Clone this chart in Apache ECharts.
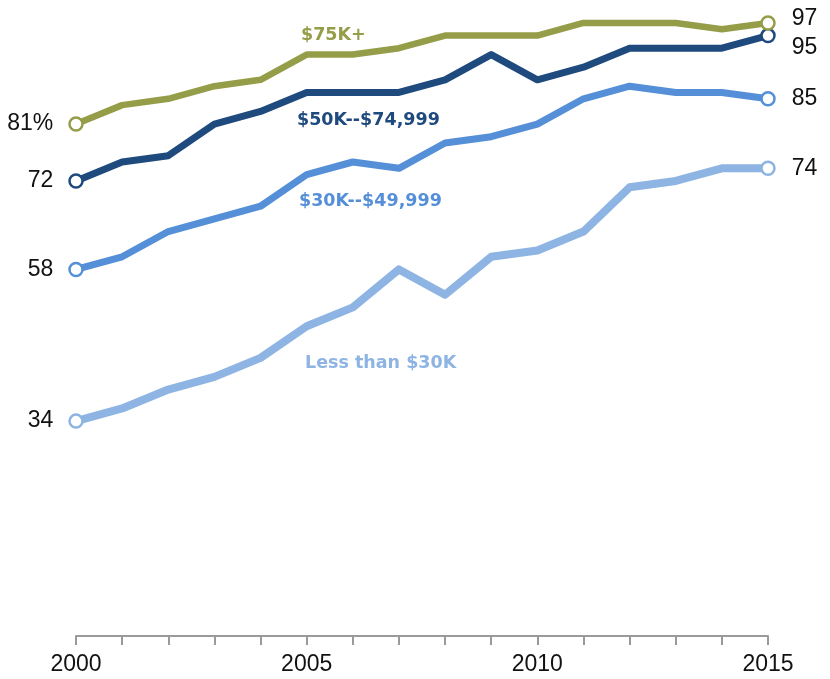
<!DOCTYPE html>
<html>
<head>
<meta charset="utf-8">
<script src="https://cdn.jsdelivr.net/npm/echarts@6/dist/echarts.min.js"></script>
<style>
  html, body { margin: 0; padding: 0; background: #fff; }
  #main { width: 830px; height: 679px; }
</style>
</head>
<body>
<div id="main"></div>
<script>
// years on the x axis
const years = ['2000', '2001', '2002', '2003', '2004', '2005', '2006', '2007',
  '2008', '2009', '2010', '2011', '2012', '2013', '2014', '2015'];

// share online, by household income (%)
const inc75plus = [81, 84, 85, 87, 88, 92, 92, 93, 95, 95, 95, 97, 97, 97, 96, 97];
const inc50to75 = [72, 75, 76, 81, 83, 86, 86, 86, 88, 92, 88, 90, 93, 93, 93, 95];
const inc30to50 = [58, 60, 64, 66, 68, 73, 75, 74, 78, 79, 81, 85, 87, 86, 86, 85];
const incUnder30 = [34, 36, 39, 41, 44, 49, 52, 58, 54, 60, 61, 64, 71, 72, 74, 74];

const seriesNames = ['$75K+', '$50K--$74,999', '$30K--$49,999', 'Less than $30K'];
const colors = ['#959d48', '#1f4a7e', '#558fd8', '#8db4e2'];

const labelFont = { fontFamily: 'Liberation Sans, Arial, sans-serif', fontSize: 23, color: '#111' };
const nameFont = 'bold 17.5px "DejaVu Sans", sans-serif';

// first/last points get the value labels
function withEndLabels(values, opts) {
  const last = values.length - 1;
  return values.map(function (v, i) {
    if (i === 0) {
      return {
        value: v,
        label: Object.assign({
          show: true, position: 'left', distance: 15,
          formatter: opts.firstSuffix ? '{c}' + opts.firstSuffix : '{c}'
        }, labelFont)
      };
    }
    if (i === last) {
      return {
        value: v,
        label: Object.assign({
          show: true, position: 'right', distance: 16,
          offset: opts.lastOffset || [0, 0]
        }, labelFont)
      };
    }
    return v;
  });
}

function makeLine(name, values, color, width, opts) {
  const last = values.length - 1;
  return {
    name: name,
    type: 'line',
    data: withEndLabels(values, opts),
    symbol: 'circle',
    symbolSize: function (v, p) {
      return (p.dataIndex === 0 || p.dataIndex === last) ? 13 : 0;
    },
    lineStyle: { color: color, width: width, cap: 'round', join: 'round' },
    itemStyle: { color: '#fff', borderColor: color, borderWidth: 2.5 },
    emphasis: { disabled: true },
    z: opts.z
  };
}

const chart = echarts.init(document.getElementById('main'));

chart.setOption({
  animation: false,
  backgroundColor: '#fff',
  grid: { left: 76, right: 62, top: 4, bottom: 43 },
  xAxis: {
    type: 'category',
    data: years,
    boundaryGap: false,
    axisLine: { lineStyle: { color: '#9a9a9a', width: 2 } },
    axisTick: { show: true, interval: 0, length: 9, lineStyle: { color: '#9a9a9a', width: 2 } },
    axisLabel: {
      interval: 4,
      margin: 17,
      fontFamily: 'Liberation Sans, Arial, sans-serif',
      fontSize: 23,
      color: '#111'
    }
  },
  yAxis: {
    type: 'value',
    min: 0,
    max: 100,
    show: false
  },
  series: [
    makeLine(seriesNames[3], incUnder30, colors[3], 8, { z: 2 }),
    makeLine(seriesNames[2], inc30to50, colors[2], 7, { z: 3 }),
    makeLine(seriesNames[1], inc50to75, colors[1], 7, { z: 4, lastOffset: [0, 12] }),
    makeLine(seriesNames[0], inc75plus, colors[0], 6.5, { z: 5, firstSuffix: '%', lastOffset: [0, -4] })
  ],
  graphic: [
    { type: 'text', left: 301, top: 26, style: { text: seriesNames[0], fill: colors[0], font: nameFont } },
    { type: 'text', left: 297, top: 111, style: { text: seriesNames[1], fill: colors[1], font: nameFont } },
    { type: 'text', left: 299, top: 192, style: { text: seriesNames[2], fill: colors[2], font: nameFont } },
    { type: 'text', left: 305, top: 354, style: { text: seriesNames[3], fill: colors[3], font: nameFont } }
  ]
});

window.onresize = function () {
  chart.resize();
};
</script>
</body>
</html>
